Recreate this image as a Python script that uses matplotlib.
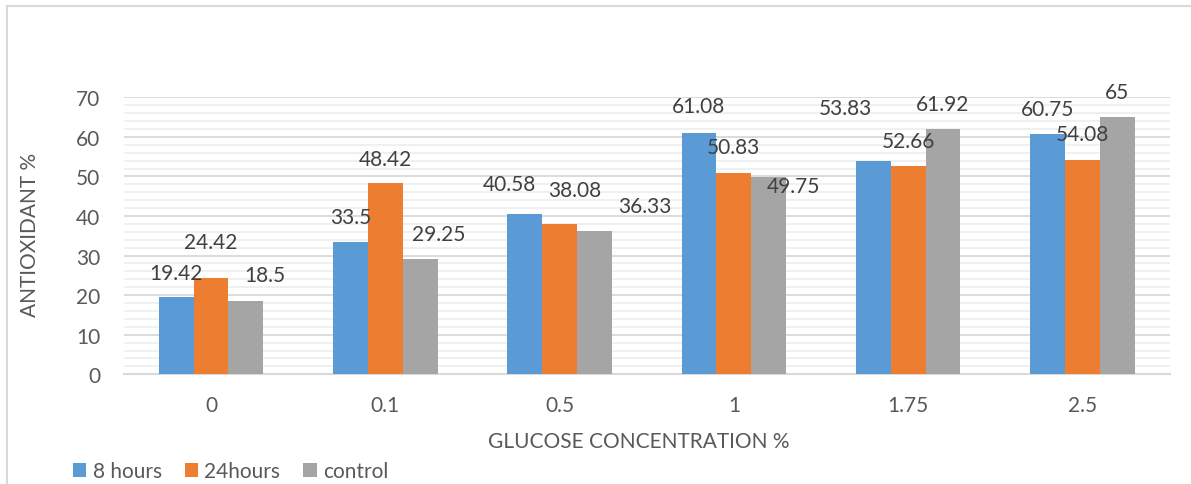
import numpy as np
import matplotlib
matplotlib.use("Agg")
import matplotlib.pyplot as plt
from matplotlib.patches import Patch
from matplotlib.lines import Line2D
from matplotlib.ticker import MultipleLocator

# antioxidant activity by glucose concentration
concentrations = ["0", "0.1", "0.5", "1", "1.75", "2.5"]
hours_8 = [19.42, 33.5, 40.58, 61.08, 53.83, 60.75]
hours_24 = [24.42, 48.42, 38.08, 50.83, 52.66, 54.08]
control = [18.5, 29.25, 36.33, 49.75, 61.92, 65]
series_names = ["8 hours", "24hours", "control"]

# value label nudges (pixels, relative to top centre of each bar)
nudge_8 = [(0, 24), (0, 25), (-15, 30), (0, 27), (-28, 53), (0, 25)]
nudge_24 = [(0, 36), (0, 24), (15, 34), (0, 26), (0, 25), (0, 26)]
nudge_ctrl = [(19, 26), (19, 25), (50, 25), (25, -9), (0, 25), (0, 25)]

colors = ["#5B9BD5", "#ED7D31", "#A5A5A5"]
text_col = "#595959"
label_col = "#404040"

plt.rcParams["font.family"] = ["Lato", "DejaVu Sans"]

fig = plt.figure(figsize=(11.91, 4.85), dpi=100)
ax = fig.add_axes([0.104, 0.2262, 0.878, 0.5711])

x = np.arange(len(concentrations))
w = 0.2
all_series = [hours_8, hours_24, control]
all_nudges = [nudge_8, nudge_24, nudge_ctrl]

for i, (vals, col, name, nudges) in enumerate(zip(all_series, colors, series_names, all_nudges)):
    pos = x + (i - 1) * w
    ax.bar(pos, vals, width=w, color=col, label=name, zorder=3)
    for px, v, (dx, dy) in zip(pos, vals, nudges):
        ax.annotate(f"{v:g}", xy=(px, v), xytext=(dx * 0.72, dy * 0.72),
                    textcoords="offset points", ha="center", va="center",
                    fontsize=15, color=label_col, annotation_clip=False, zorder=4)

ax.set_xlim(-0.5, len(concentrations) - 0.5)
ax.set_ylim(0, 70)
ax.yaxis.set_major_locator(MultipleLocator(10))
ax.yaxis.set_minor_locator(MultipleLocator(2))
ax.grid(axis="y", which="major", color="#D9D9D9", lw=1.3)
ax.grid(axis="y", which="minor", color="#EFEFEF", lw=1.3)
ax.set_axisbelow(True)

for s in ["top", "right", "left"]:
    ax.spines[s].set_visible(False)
ax.spines["bottom"].set_color("#D9D9D9")
ax.spines["bottom"].set_linewidth(1.5)

ax.set_xticks(x)
ax.set_xticklabels(concentrations)
ax.tick_params(axis="both", which="both", length=0, labelsize=15, labelcolor=text_col)
ax.tick_params(axis="y", pad=17)
ax.tick_params(axis="x", pad=15)

fig.text(0.536, 1 - 442 / 485, "GLUCOSE CONCENTRATION %", ha="center", va="center",
         fontsize=15, color=text_col)
fig.text(30 / 1191, 1 - 235 / 485, "ANTIOXIDANT %", ha="center", va="center",
         rotation=90, fontsize=15, color=text_col)

handles = [Patch(facecolor=c, edgecolor="none") for c in colors]
fig.legend(handles, series_names, loc="center left", bbox_to_anchor=(54 / 1191, 1 - 472 / 485),
           ncol=3, frameon=False, fontsize=15, labelcolor=text_col,
           handlelength=0.65, handleheight=0.65, handletextpad=0.3, columnspacing=1.1)

# thin frame around the chart area
fig.add_artist(Line2D([7 / 1191, 7 / 1191], [0, 1 - 7 / 485], color="#D9D9D9", lw=1.5))
fig.add_artist(Line2D([7 / 1191, 1], [1 - 7 / 485, 1 - 7 / 485], color="#D9D9D9", lw=1.5))

fig.savefig("out.png", dpi=100)
